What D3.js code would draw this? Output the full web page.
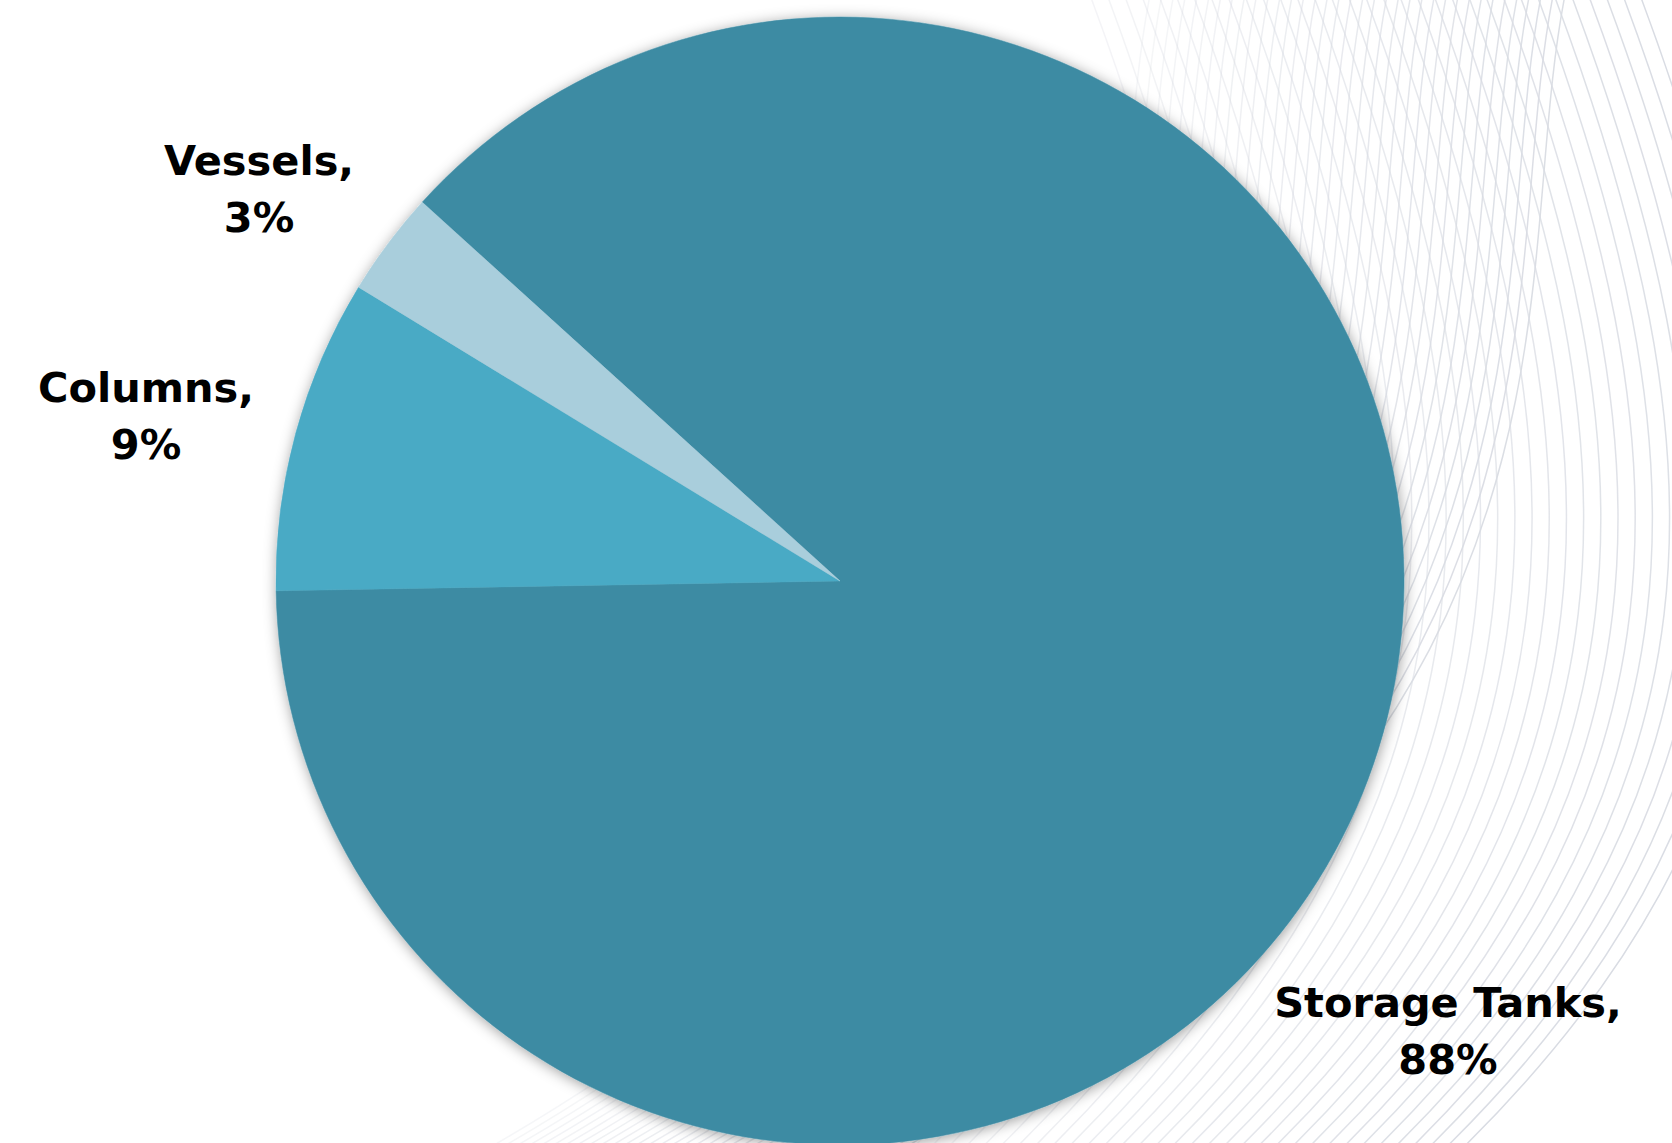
<!DOCTYPE html>
<html>
<head>
<meta charset="utf-8">
<script src="https://cdn.jsdelivr.net/npm/d3@7"></script>
<style>
  html, body { margin: 0; padding: 0; background: #ffffff; }
  svg { display: block; }
</style>
</head>
<body>
<svg id="chart" width="1672" height="1143"></svg>
<script>
// ---- data ----
const categories = ["Storage Tanks", "Columns", "Vessels"];
const values = [88, 9, 3];
const valueLabels = ["88%", "9%", "3%"];
const colors = ["#3d8ba3", "#4aaac5", "#a9cedc"];

// ---- layout ----
const W = 1672, H = 1143;
const cx = 840, cy = 581, R = 564;
const startDeg = 312.2;
// label anchor points (center x, first baseline y)
const labelPos = [[1448, 1017], [146, 402], [259, 175]];
const lineGap = 57;

const svg = d3.select("#chart");

const defs = svg.append("defs");
const f = defs.append("filter").attr("id", "shadow")
  .attr("x", "-10%").attr("y", "-10%").attr("width", "120%").attr("height", "120%");
f.append("feDropShadow").attr("dx", 1).attr("dy", 2).attr("stdDeviation", 7)
  .attr("flood-color", "#000").attr("flood-opacity", 0.38);

// ---- decorative background lines ----
const bg = svg.append("g").attr("fill", "none").attr("stroke", "#d9dce3").attr("stroke-width", 1.5);
function family(n, x0a, x0b, shape, opLo, opHi) {
  for (let i = 0; i < n; i++) {
    const t = i / (n - 1);
    const x0 = x0a + (x0b - x0a) * t;
    const path = d3.path();
    path.moveTo(x0 + shape[0][0], shape[0][1]);
    path.bezierCurveTo(x0 + shape[1][0], shape[1][1], x0 + shape[2][0], shape[2][1],
                       x0 + shape[3][0], shape[3][1]);
    bg.append("path").attr("d", path.toString()).attr("opacity", opLo + (opHi - opLo) * t);
  }
}
// family crossing the band ("/" at top, sweeping far left at bottom)
family(36, 1150, 1565, [[0, -5], [-60, 300], [60, 750], [-700, 1170]], 0.25, 0.95);
// outer family ("\" at top, bulging right)
family(33, 1090, 1640, [[0, -5], [170, 450], [190, 800], [-200, 1170]], 0.3, 1.0);

// ---- pie ----
const pie = d3.pie().sort(null)
  .startAngle(startDeg * Math.PI / 180)
  .endAngle(startDeg * Math.PI / 180 + 2 * Math.PI);
const arc = d3.arc().innerRadius(0).outerRadius(R);
const arcs = pie(values);

const g = svg.append("g").attr("transform", `translate(${cx},${cy})`);
g.append("g").attr("filter", "url(#shadow)")
  .selectAll("path").data(arcs).join("path")
  .attr("d", arc)
  .attr("fill", (d, i) => colors[i])
  .attr("stroke", (d, i) => colors[i])
  .attr("stroke-width", 0.5);

// ---- labels ----
const labels = svg.append("g")
  .attr("font-family", "'DejaVu Sans', sans-serif")
  .attr("font-weight", 700)
  .attr("font-size", 41.5)
  .attr("fill", "#000")
  .attr("text-anchor", "middle");
categories.forEach((c, i) => {
  labels.append("text").attr("x", labelPos[i][0]).attr("y", labelPos[i][1]).text(c + ",");
  labels.append("text").attr("x", labelPos[i][0]).attr("y", labelPos[i][1] + lineGap).text(valueLabels[i]);
});
</script>
</body>
</html>
